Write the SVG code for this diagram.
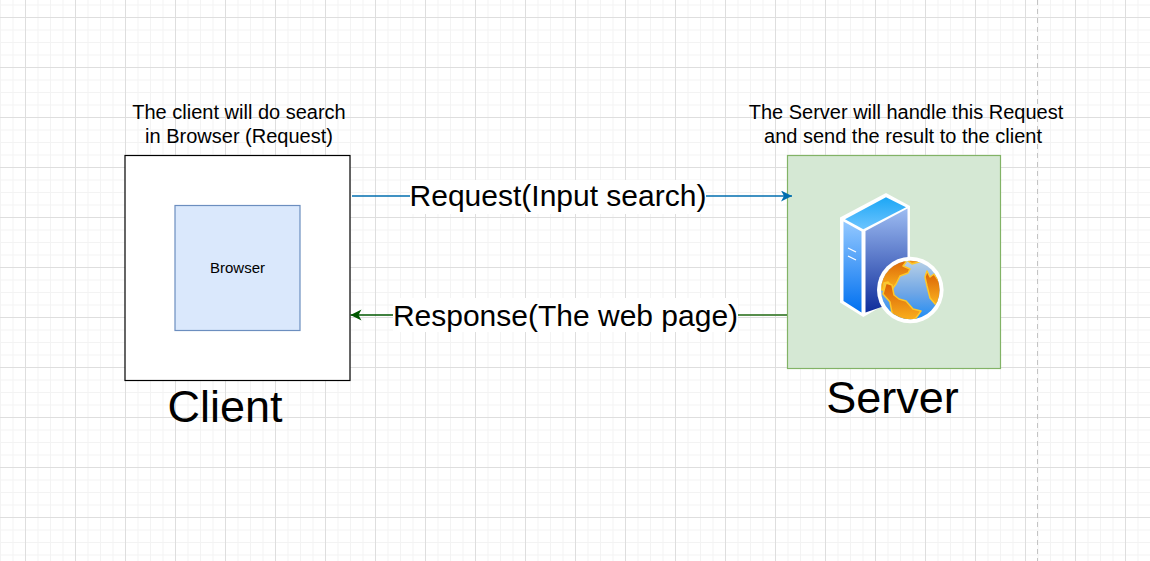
<svg xmlns="http://www.w3.org/2000/svg" width="1150" height="561" viewBox="0 0 1150 561">
<style>
text{font-family:"Liberation Sans",Arial,sans-serif;fill:#000;text-anchor:middle}
.minor{stroke:#f3f3f3;stroke-width:1;fill:none}
.major{stroke:#dedede;stroke-width:1;fill:none}
.conn{fill:none;stroke-width:1.5}
.lbl{fill:#fff}
.t30{font-size:30px}.t20{font-size:20px}.t45{font-size:45px}.t15{font-size:15px}
</style>
<defs>
<pattern id="grid" width="50" height="50" patternUnits="userSpaceOnUse" x="25" y="17">
<path d="M0 13H50M0 25.500H50M0 38H50M13 0V50M25.500 0V50M38 0V50" class="minor"/>
<path d="M0 0.500H50M0.500 0V50" class="major"/>
</pattern>
<marker id="arrowBlue" markerWidth="12" markerHeight="12" refX="11" refY="5.500" orient="auto" markerUnits="userSpaceOnUse">
<path d="M0 0L11 5.500L0 11L3 5.500Z" fill="#006eaf"/>
</marker>
<marker id="arrowGreen" markerWidth="12" markerHeight="12" refX="11" refY="5.500" orient="auto" markerUnits="userSpaceOnUse">
<path d="M0 0L11 5.500L0 11L3 5.500Z" fill="#005700"/>
</marker>
<linearGradient id="gTop" x1="0" y1="0" x2="0" y2="1"><stop offset="0" stop-color="#1da7f5"/><stop offset="1" stop-color="#6cc4ff"/></linearGradient>
<linearGradient id="gLeft" x1="0" y1="0" x2="0" y2="1"><stop offset="0" stop-color="#93c8ff"/><stop offset="1" stop-color="#0070f0"/></linearGradient>
<linearGradient id="gRight" x1="0" y1="0" x2="0" y2="1"><stop offset="0" stop-color="#9dbcf2"/><stop offset="1" stop-color="#0f2d9b"/></linearGradient>
<linearGradient id="gGlobe" x1="0" y1="0" x2="0" y2="1"><stop offset="0" stop-color="#b8d0e6"/><stop offset="0.55" stop-color="#6fa6e6"/><stop offset="1" stop-color="#1e8cf5"/></linearGradient>
<linearGradient id="gLand" x1="0" y1="0" x2="0" y2="1"><stop offset="0" stop-color="#d95f05"/><stop offset="1" stop-color="#fbb41e"/></linearGradient>
<clipPath id="globeClip"><circle cx="910.300" cy="290" r="29.300"/></clipPath>
</defs>

<rect id="canvas-bg" width="1150" height="561" fill="#fff"/>
<rect id="grid-lines" width="1150" height="561" fill="url(#grid)"/>
<path id="page-break" d="M1037.500 0V561" stroke="#c4c4c4" stroke-width="1" stroke-dasharray="5 4" fill="none"/>

<g id="client">
<rect x="125" y="155.500" width="225" height="225" fill="#fff" stroke="#000" stroke-width="1.200"/>
<text class="t45" x="225" y="422">Client</text>
</g>
<g id="browser">
<rect x="175" y="205.500" width="125" height="125" fill="#dae8fc" stroke="#6c8ebf" stroke-width="1.200"/>
<text class="t15" x="237.500" y="273">Browser</text>
</g>
<g id="client-note">
<text class="t20" x="239" y="119">The client will do search</text>
<text class="t20" x="239" y="143">in Browser (Request)</text>
</g>

<g id="server">
<rect x="787.500" y="155.500" width="213" height="213" fill="#d5e8d4" stroke="#82b366" stroke-width="1.200"/>
<g id="server-icon">
<path d="M886 193L910 206V290L863.300 317L840 302.500V217.500Z" fill="#fff"/>
<path d="M845 219.300L886 197.300L906 207.300L863.300 229.300Z" fill="url(#gTop)"/>
<path d="M843.500 221.500L861.500 231.500V312.500L843.500 301Z" fill="url(#gLeft)"/>
<path d="M865.500 231L907.500 208.500V298L865.500 312.500Z" fill="url(#gRight)"/>
<path d="M848 248L856 252M848 256L856 260" stroke="#fff" stroke-width="1.300" fill="none"/>
<circle cx="910.300" cy="290" r="33.300" fill="#fff"/>
<circle cx="910.300" cy="290" r="29.300" fill="url(#gGlobe)"/>
<g clip-path="url(#globeClip)" stroke="#fdc72c" stroke-width="1.500" stroke-linejoin="round" fill="url(#gLand)">
<path d="M900 258L906 262L903 266L910 269L908 273L900 276L896 284L893 288L888 282L884 283L884 290L882 290L878 275L885 262Z"/>
<path d="M886 283L892 285L894 295L899 299L906 301L913 309L921 311L916 318L909 322L898 322L892 313L890 302L883 294Z"/>
<path d="M904 258L925 258L922 261L912 264Z"/>
<path d="M927 271L930 277L934 274L941 284L942 296L936 305L930 298L927 286L925 277Z"/>
</g>
</g>
<text class="t45" x="892.500" y="413">Server</text>
</g>
<g id="server-note">
<text class="t20" x="906" y="119">The Server will handle this Request</text>
<text class="t20" x="903" y="143">and send the result to the client</text>
</g>

<g id="connectors">
<path class="conn" d="M352 196H792" stroke="#006eaf" marker-end="url(#arrowBlue)"/>
<path class="conn" d="M787 315H350.500" stroke="#005700" marker-end="url(#arrowGreen)"/>
<path class="conn" d="M738 315H787" stroke="#5f9350"/>
<rect class="lbl" x="410" y="180" width="296" height="34"/>
<text class="t30" x="558" y="206">Request(Input search)</text>
<rect class="lbl" x="393" y="298" width="345" height="34"/>
<text class="t30" x="565.500" y="326">Response(The web page)</text>
</g>
</svg>
